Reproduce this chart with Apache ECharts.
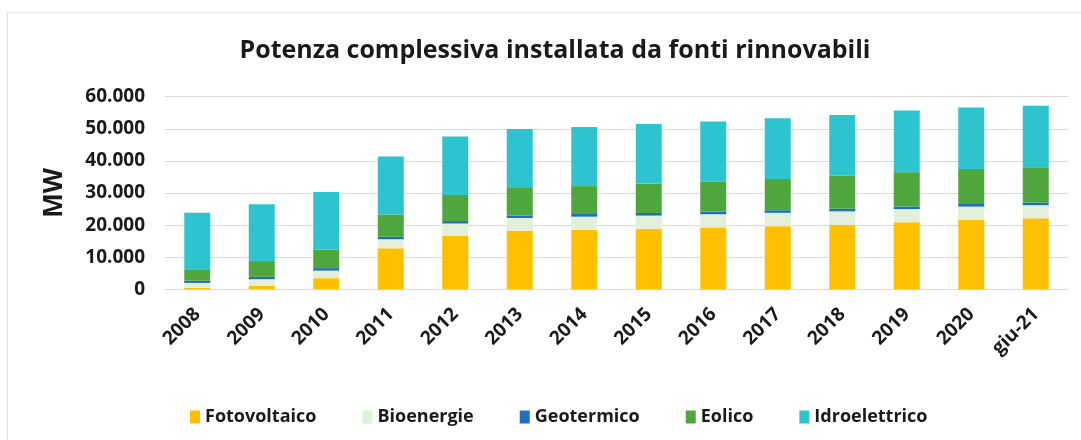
<!DOCTYPE html>
<html>
<head>
<meta charset="utf-8">
<script src="https://cdn.jsdelivr.net/npm/echarts@6/dist/echarts.min.js"></script>
<style>
  html, body { margin: 0; padding: 0; background: #fff; }
  #chart { width: 1081px; height: 440px; }
</style>
</head>
<body>
<div id="chart"></div>
<script>
// categories and MW values per source
const categories = ["2008", "2009", "2010", "2011", "2012", "2013", "2014", "2015", "2016", "2017", "2018", "2019", "2020", "giu-21"];
const fotovoltaico = [430, 1140, 3470, 12770, 16690, 18190, 18590, 18900, 19280, 19680, 20110, 20870, 21650, 22100];
const bioenergie = [1560, 2020, 2350, 2830, 3800, 4030, 4040, 4060, 4120, 4140, 4180, 4120, 4110, 4100];
const geotermico = [710, 740, 770, 770, 770, 770, 820, 820, 820, 810, 810, 810, 820, 820];
const eolico = [3540, 4900, 5810, 6940, 8120, 8560, 8700, 9160, 9410, 9770, 10270, 10680, 10910, 11000];
const idroelettrico = [17620, 17720, 17880, 18090, 18230, 18370, 18420, 18540, 18640, 18860, 18940, 19200, 19110, 19150];
const yTicks = [0, 10000, 20000, 30000, 40000, 50000, 60000];

const seriesDefs = [
  { name: "Fotovoltaico", data: fotovoltaico, color: "#FFC000" },
  { name: "Bioenergie", data: bioenergie, color: "#E2EFDA" },
  { name: "Geotermico", data: geotermico, color: "#1F6FC0" },
  { name: "Eolico", data: eolico, color: "#4EA63C" },
  { name: "Idroelettrico", data: idroelettrico, color: "#2EC4CF" },
];

const fmt = (v) => v === 0 ? "0" : v.toLocaleString("de-DE");
const font = "'Open Sans', sans-serif";
const ink = "#1a1a1a";

const chart = echarts.init(document.getElementById("chart"));
chart.setOption({
  animation: false,
  backgroundColor: "#fff",
  textStyle: { fontFamily: font },
  graphic: [{
    type: "rect",
    shape: { x: 7.5, y: 12.5, width: 1090, height: 440 },
    style: { fill: "none", stroke: "#e2e2e2", lineWidth: 1 },
    silent: true,
  }],
  title: {
    text: "Potenza complessiva installata da fonti rinnovabili",
    left: 550, top: 33, textAlign: "center",
    textStyle: { fontFamily: font, fontSize: 25, fontWeight: "bold", color: ink },
  },
  legend: {
    top: 403, left: 185,
    icon: "rect", itemWidth: 10, itemHeight: 13, itemGap: 46,
    textStyle: { fontFamily: font, fontSize: 18, fontWeight: "bold", color: ink },
    data: seriesDefs.map(s => s.name),
  },
  grid: { left: 165, right: 13, top: 96.7, bottom: 150.7, containLabel: false },
  xAxis: {
    type: "category",
    data: categories,
    axisLine: { lineStyle: { color: "#d9d9d9" } },
    axisTick: { show: false },
    axisLabel: {
      rotate: 45, interval: 0, margin: 22,
      fontFamily: font, fontSize: 19, fontWeight: "bold", color: ink,
    },
  },
  yAxis: {
    type: "value",
    min: yTicks[0], max: yTicks[yTicks.length - 1], interval: 10000,
    name: "MW", nameLocation: "middle", nameGap: 97, nameRotate: 90,
    nameTextStyle: { fontFamily: font, fontSize: 26, fontWeight: "bold", color: ink },
    axisLine: { show: false },
    axisTick: { show: false },
    splitLine: { lineStyle: { color: "#d9d9d9" } },
    axisLabel: {
      margin: 20, formatter: fmt,
      fontFamily: font, fontSize: 19, fontWeight: "bold", color: ink,
    },
  },
  series: seriesDefs.map(s => ({
    name: s.name, type: "bar", stack: "tot", barWidth: 26,
    data: s.data, itemStyle: { color: s.color },
  })),
});
</script>
</body>
</html>
